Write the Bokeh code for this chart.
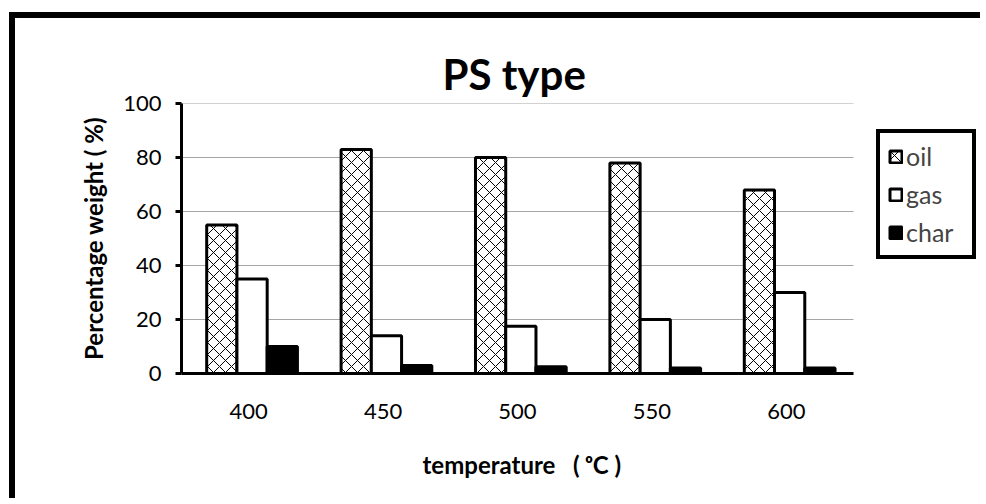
from bokeh.plotting import figure
from bokeh.models import ColumnDataSource, Range1d, Legend, LegendItem, FixedTicker, Title
from bokeh.transform import dodge
from bokeh.embed import file_html
from bokeh.resources import INLINE

# Product yields of PS pyrolysis at each reactor temperature
temperatures = ["400", "450", "500", "550", "600"]
oil = [55, 83, 80, 78, 68]
gas = [35, 14, 17.5, 20, 30]
char = [10, 3, 2.5, 2, 2]
y_ticks = [0, 20, 40, 60, 80, 100]

# one unit of x per temperature group, groups centred on i + 0.5
n = len(temperatures)
centres = [i + 0.5 for i in range(n)]
source = ColumnDataSource(data=dict(x=centres, temp=temperatures, oil=oil, gas=gas, char=char))

FONT = "Lato"

# the frame runs on past the last group to leave room for the legend
p = figure(
    width=971, height=486,
    x_range=Range1d(0, n * 1.189),
    y_range=Range1d(0, 100),
    output_backend="svg",
    toolbar_location=None,
    min_border_left=166, min_border_right=6,
    min_border_top=85, min_border_bottom=130,
)
p.styles = {
    "border-left": "6px solid black",
    "border-top": "6px solid black",
    "margin-left": "9px",
    "margin-top": "12px",
}

# horizontal gridlines across the group area only
grid_y = [t for t in y_ticks if t > 0]
p.segment(x0=[0] * len(grid_y), x1=[n] * len(grid_y), y0=grid_y, y1=grid_y,
          line_color="#a6a6a6", line_width=1, level="underlay")

bar_w = 0.225
r_oil = p.vbar(x=dodge("x", -0.2), top="oil", width=bar_w, source=source,
               fill_color="white", line_color="black", line_width=3,
               hatch_pattern="diagonal_cross", hatch_color="black", hatch_scale=12, hatch_weight=1)
r_gas = p.vbar(x=dodge("x", 0.025), top="gas", width=bar_w, source=source,
               fill_color="white", line_color="black", line_width=3)
r_char = p.vbar(x=dodge("x", 0.25), top="char", width=bar_w, source=source,
                fill_color="black", line_color="black", line_width=3)

# title
p.title.text = "PS type"
p.title.align = "left"
p.title.offset = 261
p.title.text_font = FONT
p.title.text_font_size = "42px"
p.title.text_font_style = "bold"
p.title.text_color = "black"
p.title.standoff = 10

p.xgrid.grid_line_color = None
p.ygrid.grid_line_color = None
p.outline_line_color = None

# y axis
p.yaxis.ticker = FixedTicker(ticks=y_ticks)
p.yaxis.axis_line_width = 3
p.yaxis.axis_line_color = "black"
p.yaxis.major_tick_line_width = 3
p.yaxis.major_tick_in = 0
p.yaxis.major_tick_out = 6
p.yaxis.minor_tick_line_color = None
p.yaxis.major_label_text_font = FONT
p.yaxis.major_label_text_font_size = "22px"
p.yaxis.major_label_text_color = "black"
p.yaxis.major_label_standoff = 14
p.yaxis.axis_label = "Percentage weight ( %)"
p.yaxis.axis_label_text_font = FONT
p.yaxis.axis_label_text_font_size = "24px"
p.yaxis.axis_label_text_font_style = "bold"
p.yaxis.axis_label_text_color = "black"
p.yaxis.axis_label_standoff = 12

# x axis: one label per temperature group
p.xaxis.ticker = FixedTicker(ticks=centres)
p.xaxis.major_label_overrides = {c: t for c, t in zip(centres, temperatures)}
p.xaxis.bounds = (0, n)
p.xaxis.axis_line_width = 3
p.xaxis.axis_line_color = "black"
p.xaxis.major_tick_line_color = None
p.xaxis.minor_tick_line_color = None
p.xaxis.major_label_text_font = FONT
p.xaxis.major_label_text_font_size = "22px"
p.xaxis.major_label_text_color = "black"
p.xaxis.major_label_standoff = 24

# x axis caption, centred under the groups rather than the whole frame
x_caption = Title(text="temperature\u00a0\u00a0 ( \u1d52C )", align="left", offset=241,
                  text_font=FONT, text_font_size="24px", text_font_style="bold",
                  text_color="black", standoff=52)
p.add_layout(x_caption, "below")

legend = Legend(
    items=[LegendItem(label="oil", renderers=[r_oil]),
           LegendItem(label="gas", renderers=[r_gas]),
           LegendItem(label="char", renderers=[r_char])],
    location=(695, 114),
    border_line_color="black", border_line_width=4, border_line_alpha=1,
    background_fill_color="white", background_fill_alpha=1,
    label_text_font=FONT, label_text_font_size="25px",
    glyph_width=15, glyph_height=15, label_standoff=3, label_width=58,
    spacing=8, padding=8, margin=0,
)
p.add_layout(legend, "center")

open("out.html", "w").write(file_html(p, INLINE))
